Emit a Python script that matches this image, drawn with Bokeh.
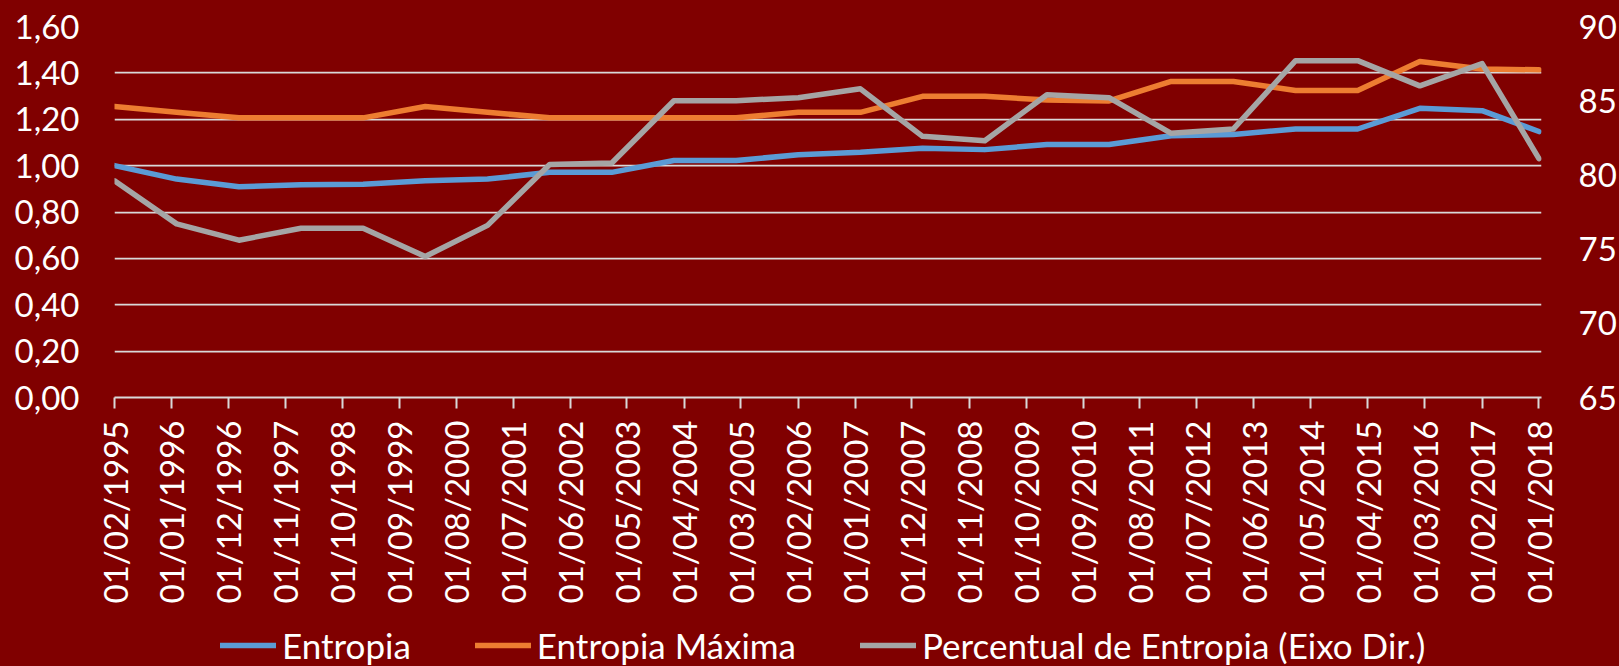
import math
import pandas as pd
from bokeh.plotting import figure
from bokeh.layouts import column
from bokeh.models import (Range1d, LinearAxis, FixedTicker, DatetimeTickFormatter,
                          CustomJSTickFormatter, Legend, LegendItem)
from bokeh.embed import file_html
from bokeh.resources import INLINE

# ---------------- data ----------------
dates = ["01/02/1995", "01/02/1996", "01/02/1997", "01/02/1998", "01/02/1999",
         "01/02/2000", "01/02/2001", "01/02/2002", "01/02/2003", "01/02/2004",
         "01/02/2005", "01/02/2006", "01/02/2007", "01/02/2008", "01/02/2009",
         "01/02/2010", "01/02/2011", "01/02/2012", "01/02/2013", "01/02/2014",
         "01/02/2015", "01/02/2016", "01/02/2017", "01/01/2018"]
entropia = [1.000, 0.942, 0.909, 0.918, 0.920, 0.935, 0.942, 0.971, 0.971, 1.022,
            1.022, 1.047, 1.058, 1.075, 1.069, 1.091, 1.091, 1.129, 1.134, 1.158,
            1.158, 1.247, 1.237, 1.147]
entropia_maxima = [1.255, 1.230, 1.206, 1.206, 1.206, 1.255, 1.230, 1.206, 1.206, 1.206,
                   1.206, 1.230, 1.230, 1.299, 1.299, 1.283, 1.279, 1.363, 1.363, 1.324,
                   1.324, 1.449, 1.417, 1.413]
percentual = [79.6, 76.7, 75.6, 76.4, 76.4, 74.5, 76.6, 80.7, 80.8, 85.0,
              85.0, 85.2, 85.8, 82.6, 82.3, 85.4, 85.2, 82.8, 83.1, 87.7,
              87.7, 86.0, 87.5, 81.1]
tick_labels = ["01/02/1995", "01/01/1996", "01/12/1996", "01/11/1997", "01/10/1998",
               "01/09/1999", "01/08/2000", "01/07/2001", "01/06/2002", "01/05/2003",
               "01/04/2004", "01/03/2005", "01/02/2006", "01/01/2007", "01/12/2007",
               "01/11/2008", "01/10/2009", "01/09/2010", "01/08/2011", "01/07/2012",
               "01/06/2013", "01/05/2014", "01/04/2015", "01/03/2016", "01/02/2017",
               "01/01/2018"]
left_ticks = [0.0, 0.2, 0.4, 0.6, 0.8, 1.0, 1.2, 1.4, 1.6]
right_ticks = [65, 70, 75, 80, 85, 90]
series_names = ["Entropia", "Entropia Máxima", "Percentual de Entropia (Eixo Dir.)"]

# ---------------- styling ----------------
BG = "#800000"
GRID = "#D9D9D9"
TXT = "#FFFFFF"
FONT = "Lato"
C_BLUE, C_ORANGE, C_GRAY = "#5B9BD5", "#ED7D31", "#A5A5A5"
LW = 5.5
W = 1619
H_MAIN = 612
H_LEG = 54

x = pd.to_datetime(dates, format="%d/%m/%Y")
tick_dt = pd.to_datetime(tick_labels, format="%d/%m/%Y")
tick_ms = tick_dt.values.astype("datetime64[ms]").astype("int64").tolist()

x_start = tick_dt[0]
x_end = tick_dt[-1] + pd.Timedelta(days=15)

p = figure(width=W, height=H_MAIN, x_axis_type="datetime",
           x_range=Range1d(x_start, x_end), y_range=Range1d(0, 1.6),
           output_backend="svg", toolbar_location=None,
           min_border_left=114, min_border_right=77, min_border_top=26,
           min_border_bottom=H_MAIN - 397,
           background_fill_color=BG, border_fill_color=BG, outline_line_color=None)

p.extra_y_ranges = {"pct": Range1d(65, 90)}

# grids (drawn under lines)
p.xgrid.grid_line_color = None
p.ygrid.grid_line_color = GRID
p.ygrid.grid_line_width = 1.75
p.ygrid.ticker = FixedTicker(ticks=left_ticks)

style = dict(line_width=LW, line_join="round", line_cap="round")
r1 = p.line(x, entropia, line_color=C_BLUE, **style)
r2 = p.line(x, entropia_maxima, line_color=C_ORANGE, **style)
r3 = p.line(x, percentual, line_color=C_GRAY, y_range_name="pct", **style)

# x axis
xa = p.xaxis[0]
xa.ticker = FixedTicker(ticks=tick_ms)
fmt = "%d/%m/%Y"
xa.formatter = DatetimeTickFormatter(microseconds=fmt, milliseconds=fmt, seconds=fmt,
                                     minsec=fmt, minutes=fmt, hourmin=fmt, hours=fmt,
                                     days=fmt, months=fmt, years=fmt)
xa.major_label_orientation = math.pi / 2
xa.axis_line_color = GRID
xa.axis_line_width = 2
xa.major_tick_line_color = GRID
xa.major_tick_line_width = 2
xa.major_tick_out = 11
xa.major_tick_in = 0
xa.minor_tick_line_color = None
xa.major_label_standoff = 12
xa.major_label_text_font = FONT
xa.major_label_text_font_size = "33px"
xa.major_label_text_color = TXT

# left axis
ya = p.yaxis[0]
ya.ticker = FixedTicker(ticks=left_ticks)
ya.formatter = CustomJSTickFormatter(code="return tick.toFixed(2).replace('.', ',');")
ya.axis_line_color = None
ya.major_tick_line_color = None
ya.minor_tick_line_color = None
ya.major_tick_out = 0
ya.major_tick_in = 0
ya.major_label_standoff = 35
ya.major_label_text_font = FONT
ya.major_label_text_font_size = "33px"
ya.major_label_text_color = TXT

# right axis
ra = LinearAxis(y_range_name="pct", ticker=FixedTicker(ticks=right_ticks))
ra.axis_line_color = None
ra.major_tick_line_color = None
ra.minor_tick_line_color = None
ra.major_tick_out = 0
ra.major_tick_in = 0
ra.major_label_standoff = 37
ra.major_label_text_font = FONT
ra.major_label_text_font_size = "33px"
ra.major_label_text_color = TXT
p.add_layout(ra, "right")

# ---------------- legend strip ----------------
# same series, but the strip's x range lies before the data, so only the legend shows
leg_start = x_start - pd.Timedelta(days=730)
leg_end = x_start - pd.Timedelta(days=365)
pl = figure(width=W, height=H_LEG, x_axis_type="datetime",
            x_range=Range1d(leg_start, leg_end), y_range=Range1d(0, 1.6),
            output_backend="svg", toolbar_location=None,
            x_axis_location=None, y_axis_location=None,
            min_border=0, min_border_left=0, min_border_right=0,
            min_border_top=0, min_border_bottom=0,
            background_fill_color=BG, background_fill_alpha=0,
            border_fill_color=BG, outline_line_color=None)
pl.grid.visible = False
pl.extra_y_ranges = {"pct": Range1d(65, 90)}
l1 = pl.line(x, entropia, line_color=C_BLUE, **style)
l2 = pl.line(x, entropia_maxima, line_color=C_ORANGE, **style)
l3 = pl.line(x, percentual, line_color=C_GRAY, y_range_name="pct", **style)

legend = Legend(items=[LegendItem(label=series_names[0], renderers=[l1]),
                       LegendItem(label=series_names[1], renderers=[l2]),
                       LegendItem(label=series_names[2], renderers=[l3])],
                orientation="horizontal", location=(106, 0),
                label_text_font=FONT, label_text_font_size="35px",
                label_text_color=TXT, glyph_width=56, glyph_height=20,
                label_standoff=6, spacing=64, padding=0, margin=0,
                background_fill_alpha=0, border_line_color=None)
pl.add_layout(legend, "center")

layout = column(p, pl, spacing=0, styles={"background-color": BG})
open("out.html", "w").write(file_html(layout, INLINE))
